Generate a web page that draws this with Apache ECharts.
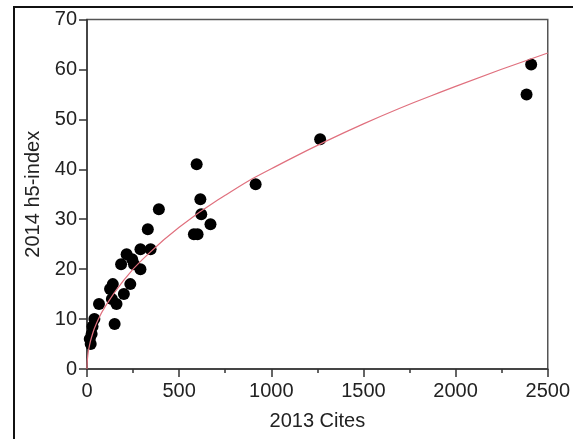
<!DOCTYPE html>
<html>
<head>
<meta charset="utf-8">
<script src="https://cdn.jsdelivr.net/npm/echarts@6/dist/echarts.min.js"></script>
<style>
html,body{margin:0;padding:0;background:#fff;}
#c{width:573px;height:439px;}
</style>
</head>
<body>
<div id="c"></div>
<script>
// 2013 cites vs 2014 h5-index
var cites2013 = [15, 20, 25, 30, 40, 65, 150, 125, 140, 135, 160, 200, 185, 215, 245, 255, 235, 290, 290, 345, 330, 390, 580, 600, 595, 615, 620, 670, 915, 1265, 2385, 2410];
var h5index2014 = [6, 5, 7, 8.5, 10, 13, 9, 16, 17, 14, 13, 15, 21, 23, 22, 21, 17, 24, 20, 24, 28, 32, 27, 27, 41, 34, 31, 29, 37, 46, 55, 61];
// trend curve
var fitX = [0, 1, 5, 10, 25, 50, 100, 200, 300, 500, 750, 1000, 1500, 2000, 2500];
var fitY = [0, 1.3, 2.9, 4.1, 6.4, 9.0, 12.6, 17.8, 21.9, 28.4, 34.8, 40.1, 49.1, 56.6, 63.3];
var xTicks = [0, 500, 1000, 1500, 2000, 2500];
var yTicks = [0, 10, 20, 30, 40, 50, 60, 70];

var pts = cites2013.map(function (x, i) { return [x, h5index2014[i]]; });
var fit = fitX.map(function (x, i) { return [x, fitY[i]]; });

var chart = echarts.init(document.getElementById('c'), null, {renderer: 'canvas'});
var font = 'Liberation Sans, Arial, sans-serif';
chart.setOption({
  animation: false,
  backgroundColor: '#fff',
  grid: {left: 87, top: 19.5, right: 18, bottom: 70, show: true, borderColor: '#555', borderWidth: 1.5},
  xAxis: {
    type: 'value', min: xTicks[0], max: xTicks[xTicks.length - 1], interval: 500,
    name: '2013 Cites', nameLocation: 'middle', nameGap: 42,
    nameTextStyle: {fontFamily: font, fontSize: 20, color: '#222'},
    axisLine: {show: true, onZero: false, lineStyle: {color: '#333', width: 1.5}},
    axisTick: {show: true, inside: false, length: 8, lineStyle: {color: '#333', width: 1.5}},
    minorTick: {show: true, splitNumber: 2, length: 4, lineStyle: {color: '#333', width: 1.5}},
    axisLabel: {margin: 12, fontFamily: font, fontSize: 20, color: '#222', formatter: function (v) { return String(v); }},
    splitLine: {show: false}
  },
  yAxis: {
    type: 'value', min: yTicks[0], max: yTicks[yTicks.length - 1], interval: 10,
    name: '2014 h5-index', nameLocation: 'middle', nameGap: 44,
    nameTextStyle: {fontFamily: font, fontSize: 20, color: '#222'},
    axisLine: {show: true, onZero: false, lineStyle: {color: '#333', width: 1.5}},
    axisTick: {show: true, inside: false, length: 8, lineStyle: {color: '#333', width: 1.5}},
    axisLabel: {margin: 10, fontFamily: font, fontSize: 20, color: '#222', formatter: function (v) { return String(v); }},
    splitLine: {show: false}
  },
  graphic: [
    {type: 'polyline', shape: {points: [[14, 439], [14, 7], [573, 7]]}, style: {stroke: '#111', lineWidth: 2, fill: null}, silent: true}
  ],
  series: [
    {
      type: 'line', data: fit, smooth: true, showSymbol: false, z: 3,
      lineStyle: {color: '#e0707e', width: 1.2}
    },
    {
      type: 'scatter', data: pts, symbol: 'circle', symbolSize: 12, z: 2,
      itemStyle: {color: '#000', opacity: 1}
    }
  ]
});
</script>
</body>
</html>
